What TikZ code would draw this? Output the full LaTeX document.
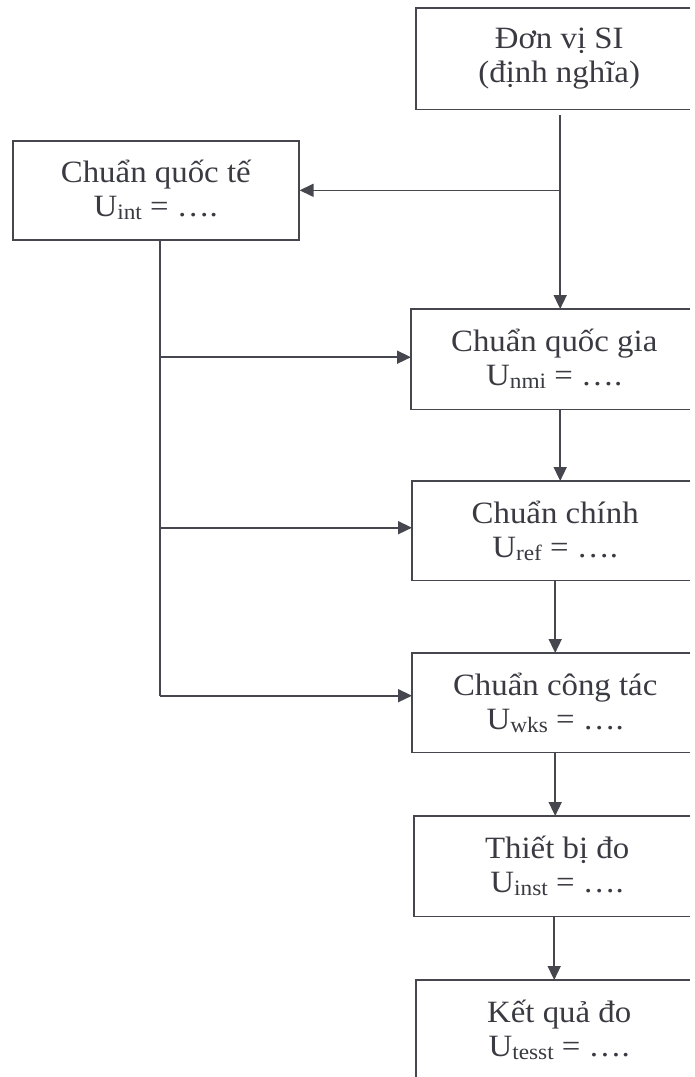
\documentclass[tikz,border=0pt]{standalone}
\usepackage{fontspec}
\setmainfont{Liberation Serif}[FakeStretch=1.06]
\usetikzlibrary{arrows.meta}
\definecolor{ink}{HTML}{3A3A42}
\definecolor{linec}{HTML}{46464E}
\newcommand{\sbs}[1]{\raisebox{-3pt}{\fontsize{22}{22}\selectfont #1}}
\begin{document}
\begin{tikzpicture}[x=1pt,y=-1pt,
  box/.style={minimum width=286pt, minimum height=100pt,
    inner sep=0pt, align=center, text=ink, font=\fontsize{31}{34}\selectfont, anchor=north west},
  arr/.style={draw=linec, line width=1.6pt, -{Triangle[length=14pt,width=13pt]}},
  ln/.style={draw=linec, line width=1.6pt}]
\useasboundingbox (0,0) rectangle (694,1077);
\coordinate (edge) at (690,0);
\node[box, minimum height=101pt] (si) at (416,8) {Đơn vị SI\\(định nghĩa)};
\node[box, minimum height=99pt, draw=linec, line width=1.6pt] (qt) at (12,140) {Chuẩn quốc tế\\U\sbs{int} = ….};
\node[box] (qg) at (411,309) {Chuẩn quốc gia\\U\sbs{nmi} = ….};
\node[box, minimum height=99pt] (ch) at (412,481) {Chuẩn chính\\U\sbs{ref} = ….};
\node[box, minimum height=99pt] (ct) at (412,653) {Chuẩn công tác\\U\sbs{wks} = ….};
\node[box] (tb) at (414,816) {Thiết bị đo\\U\sbs{inst} = ….};
\node[box] (kq) at (416,980) {Kết quả đo\\U\sbs{tesst} = ….};

\foreach \b in {si,qg,ch,ct,tb}
  \draw[ln] (edge |- \b.north) -- (\b.north west) -- (\b.south west) -- (edge |- \b.south);
\draw[ln] (edge |- kq.north) -- (kq.north west) -- ([yshift=-6pt]kq.west |- 0,1077);

\coordinate (br) at ([xshift=1pt]si.south |- qt.east);
\draw[ln, shorten <=6pt] ([xshift=1pt]si.south) -- (br);
\draw[arr] (br) -- (qt.east);
\draw[arr] (br) -- (br |- qg.north);
\draw[arr] (br |- qg.south) -- (br |- ch.north);
\draw[arr] (ch.south) -- (ch.south |- ct.north);
\draw[arr] (ct.south) -- (ct.south |- tb.north);
\draw[arr] ([xshift=-3pt]tb.south) -- ([xshift=-3pt]tb.south |- kq.north);

\coordinate (vl) at ([xshift=4pt]qt.south);
\coordinate (qgin) at ([yshift=2pt]qg.west);
\coordinate (chin) at ([yshift=3pt]ch.west);
\coordinate (ctin) at ([yshift=7pt]ct.west);
\draw[ln] (vl) -- (vl |- ctin);
\draw[arr] (vl |- qgin) -- (qgin);
\draw[arr] (vl |- chin) -- (chin);
\draw[arr] (vl |- ctin) -- (ctin);
\end{tikzpicture}
\end{document}
